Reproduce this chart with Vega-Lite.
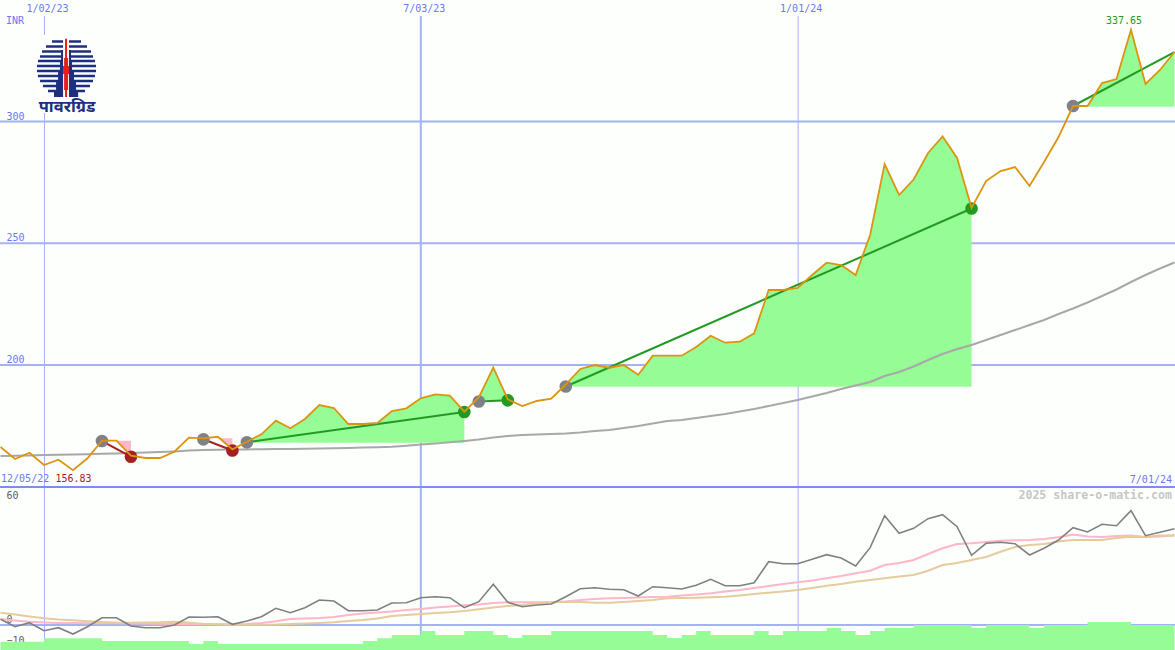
{"$schema":"https://vega.github.io/schema/vega-lite/v6.json","background":"#fdfffd","padding":0,"spacing":0,"autosize":{"type":"pad"},"config":{"view":{"stroke":null},"font":"DejaVu Sans Mono","axis":{"labelFont":"DejaVu Sans Mono","labelFontSize":10}},
"datasets":{"weeks":[
{"d":"2022-12-12","p":166.32,"ma":162.63,"osc":2.77,"rsi":2.91,"sig":5.97,"vol":-8.11},
{"d":"2022-12-19","p":161.40,"ma":162.75,"osc":-0.83,"rsi":2.18,"sig":5.10,"vol":-8.11},
{"d":"2022-12-26","p":163.98,"ma":162.87,"osc":1.12,"rsi":1.60,"sig":4.13,"vol":-8.11},
{"d":"2023-01-02","p":158.93,"ma":163.04,"osc":-2.77,"rsi":1.21,"sig":3.25,"vol":-6.46},
{"d":"2023-01-09","p":161.11,"ma":163.16,"osc":-1.31,"rsi":0.97,"sig":2.67,"vol":-6.46},
{"d":"2023-01-16","p":156.83,"ma":163.24,"osc":-4.37,"rsi":0.97,"sig":2.28,"vol":-6.46},
{"d":"2023-01-23","p":161.68,"ma":163.37,"osc":-0.83,"rsi":0.87,"sig":1.80,"vol":-6.46},
{"d":"2023-01-30","p":168.91,"ma":163.53,"osc":3.54,"rsi":0.97,"sig":1.46,"vol":-7.77},
{"d":"2023-02-06","p":168.91,"ma":163.70,"osc":3.54,"rsi":0.83,"sig":1.21,"vol":-7.77},
{"d":"2023-02-13","p":162.75,"ma":163.86,"osc":-0.49,"rsi":0.73,"sig":1.12,"vol":-7.77},
{"d":"2023-02-20","p":161.81,"ma":164.07,"osc":-1.31,"rsi":0.68,"sig":1.21,"vol":-7.77},
{"d":"2023-02-27","p":161.81,"ma":164.27,"osc":-1.31,"rsi":0.58,"sig":1.31,"vol":-7.77},
{"d":"2023-03-06","p":164.39,"ma":164.52,"osc":0,"rsi":0.49,"sig":1.60,"vol":-7.77},
{"d":"2023-03-13","p":170.14,"ma":164.89,"osc":3.88,"rsi":0.49,"sig":1.21,"vol":-9.22},
{"d":"2023-03-20","p":169.90,"ma":165.09,"osc":3.74,"rsi":0.49,"sig":0.49,"vol":-7.77},
{"d":"2023-03-27","p":170.55,"ma":165.17,"osc":4.03,"rsi":0.39,"sig":0.34,"vol":-9.22},
{"d":"2023-04-03","p":165.38,"ma":165.26,"osc":0.34,"rsi":0.39,"sig":0.15,"vol":-9.22},
{"d":"2023-04-10","p":168.50,"ma":165.34,"osc":1.94,"rsi":0.49,"sig":0.15,"vol":-9.22},
{"d":"2023-04-17","p":171.54,"ma":165.42,"osc":4.03,"rsi":0.97,"sig":0.15,"vol":-9.22},
{"d":"2023-04-24","p":177.13,"ma":165.50,"osc":8.11,"rsi":1.80,"sig":0.24,"vol":-9.22},
{"d":"2023-05-01","p":174.00,"ma":165.50,"osc":5.97,"rsi":2.91,"sig":0.49,"vol":-9.22},
{"d":"2023-05-08","p":177.82,"ma":165.63,"osc":8.40,"rsi":3.16,"sig":0.73,"vol":-9.22},
{"d":"2023-05-15","p":183.57,"ma":165.71,"osc":12.14,"rsi":3.40,"sig":0.97,"vol":-9.22},
{"d":"2023-05-22","p":182.34,"ma":165.83,"osc":11.65,"rsi":3.88,"sig":1.31,"vol":-9.22},
{"d":"2023-05-29","p":175.77,"ma":165.95,"osc":6.94,"rsi":4.85,"sig":1.94,"vol":-9.22},
{"d":"2023-06-05","p":175.77,"ma":166.08,"osc":6.94,"rsi":5.58,"sig":2.43,"vol":-7.77},
{"d":"2023-06-12","p":176.18,"ma":166.24,"osc":7.28,"rsi":6.07,"sig":3.16,"vol":-6.46},
{"d":"2023-06-19","p":181.11,"ma":166.41,"osc":10.68,"rsi":6.55,"sig":4.37,"vol":-4.85},
{"d":"2023-06-26","p":182.22,"ma":166.82,"osc":10.83,"rsi":7.28,"sig":4.85,"vol":-4.85},
{"d":"2023-07-03","p":186.32,"ma":167.35,"osc":13.25,"rsi":7.77,"sig":5.34,"vol":-2.91},
{"d":"2023-07-10","p":187.97,"ma":167.76,"osc":13.74,"rsi":8.50,"sig":5.83,"vol":-4.85},
{"d":"2023-07-17","p":187.39,"ma":168.25,"osc":13.25,"rsi":8.98,"sig":6.17,"vol":-4.85},
{"d":"2023-07-24","p":180.82,"ma":168.79,"osc":8.40,"rsi":9.56,"sig":6.80,"vol":-2.91},
{"d":"2023-07-31","p":186.65,"ma":169.40,"osc":11.31,"rsi":9.95,"sig":7.62,"vol":-2.91},
{"d":"2023-08-07","p":198.89,"ma":170.23,"osc":19.76,"rsi":10.68,"sig":8.50,"vol":-4.85},
{"d":"2023-08-14","p":185.91,"ma":170.84,"osc":11.02,"rsi":11.02,"sig":9.22,"vol":-6.31},
{"d":"2023-08-21","p":183.16,"ma":171.25,"osc":8.88,"rsi":11.02,"sig":9.71,"vol":-4.85},
{"d":"2023-08-28","p":185.22,"ma":171.46,"osc":9.71,"rsi":11.02,"sig":10.53,"vol":-4.85},
{"d":"2023-09-04","p":186.16,"ma":171.66,"osc":10.19,"rsi":11.02,"sig":11.02,"vol":-2.91},
{"d":"2023-09-11","p":191.99,"ma":171.87,"osc":13.74,"rsi":11.41,"sig":11.31,"vol":-2.91},
{"d":"2023-09-18","p":198.36,"ma":172.28,"osc":17.62,"rsi":12.14,"sig":11.17,"vol":-2.91},
{"d":"2023-09-25","p":200,"ma":172.90,"osc":18.11,"rsi":12.62,"sig":10.83,"vol":-2.91},
{"d":"2023-10-02","p":198.89,"ma":173.31,"osc":17.33,"rsi":12.96,"sig":10.83,"vol":-2.91},
{"d":"2023-10-09","p":200,"ma":174.13,"osc":17.14,"rsi":13.11,"sig":11.17,"vol":-2.91},
{"d":"2023-10-16","p":196.02,"ma":174.95,"osc":14.08,"rsi":13.35,"sig":11.65,"vol":-2.91},
{"d":"2023-10-23","p":203.82,"ma":175.98,"osc":18.59,"rsi":13.59,"sig":12.14,"vol":-4.85},
{"d":"2023-10-30","p":203.82,"ma":177.00,"osc":18.11,"rsi":13.74,"sig":12.96,"vol":-6.31},
{"d":"2023-11-06","p":203.82,"ma":177.41,"osc":17.48,"rsi":14.32,"sig":13.11,"vol":-4.85},
{"d":"2023-11-13","p":207.39,"ma":178.23,"osc":19.27,"rsi":14.81,"sig":13.25,"vol":-2.91},
{"d":"2023-11-20","p":212.03,"ma":179.05,"osc":22.18,"rsi":15.39,"sig":13.45,"vol":-4.85},
{"d":"2023-11-27","p":209.16,"ma":179.88,"osc":19.08,"rsi":16.26,"sig":13.74,"vol":-4.85},
{"d":"2023-12-04","p":209.57,"ma":180.90,"osc":19.08,"rsi":16.99,"sig":14.32,"vol":-4.85},
{"d":"2023-12-11","p":213.02,"ma":181.93,"osc":20.53,"rsi":17.96,"sig":15.05,"vol":-2.91},
{"d":"2023-12-18","p":230.80,"ma":183.16,"osc":30.73,"rsi":18.93,"sig":15.68,"vol":-4.85},
{"d":"2023-12-25","p":230.80,"ma":184.39,"osc":29.76,"rsi":19.90,"sig":16.26,"vol":-2.91},
{"d":"2024-01-01","p":231.62,"ma":185.63,"osc":29.76,"rsi":20.73,"sig":16.99,"vol":-2.91},
{"d":"2024-01-08","p":236.96,"ma":187.06,"osc":31.89,"rsi":21.60,"sig":17.96,"vol":-2.91},
{"d":"2024-01-15","p":242.01,"ma":188.50,"osc":34.13,"rsi":22.67,"sig":19.08,"vol":-1.46},
{"d":"2024-01-22","p":241.07,"ma":190.14,"osc":32.52,"rsi":23.79,"sig":19.90,"vol":-2.91},
{"d":"2024-01-29","p":236.96,"ma":191.58,"osc":28.64,"rsi":25.10,"sig":21.02,"vol":-4.85},
{"d":"2024-02-05","p":253.39,"ma":193.02,"osc":37.52,"rsi":26.36,"sig":21.84,"vol":-2.91},
{"d":"2024-02-12","p":282.55,"ma":195.48,"osc":53.06,"rsi":29.13,"sig":22.67,"vol":-1.46},
{"d":"2024-02-19","p":269.82,"ma":197.13,"osc":44.51,"rsi":30.10,"sig":23.54,"vol":-1.46},
{"d":"2024-02-26","p":276.18,"ma":199.38,"osc":46.94,"rsi":31.55,"sig":24.27,"vol":0},
{"d":"2024-03-04","p":287.06,"ma":202.05,"osc":51.60,"rsi":34.47,"sig":26.36,"vol":0},
{"d":"2024-03-11","p":293.84,"ma":204.52,"osc":53.54,"rsi":37.23,"sig":29.13,"vol":0},
{"d":"2024-03-18","p":285.01,"ma":206.57,"osc":47.72,"rsi":39.32,"sig":30.10,"vol":0},
{"d":"2024-03-25","p":264.48,"ma":208.21,"osc":33.84,"rsi":39.66,"sig":31.55,"vol":-1.46},
{"d":"2024-04-01","p":275.56,"ma":210.27,"osc":39.66,"rsi":40.29,"sig":33.01,"vol":0},
{"d":"2024-04-08","p":279.67,"ma":212.32,"osc":40.15,"rsi":40.92,"sig":35.58,"vol":0},
{"d":"2024-04-15","p":281.31,"ma":214.37,"osc":39.47,"rsi":41.12,"sig":37.86,"vol":0},
{"d":"2024-04-22","p":273.51,"ma":216.43,"osc":33.98,"rsi":41.26,"sig":38.83,"vol":-1.46},
{"d":"2024-04-29","p":283.37,"ma":218.48,"osc":37.23,"rsi":41.75,"sig":39.32,"vol":0},
{"d":"2024-05-06","p":293.63,"ma":220.94,"osc":41.26,"rsi":42.57,"sig":40.53,"vol":0},
{"d":"2024-05-13","p":306.37,"ma":223.20,"osc":47.23,"rsi":43.93,"sig":41.26,"vol":0},
{"d":"2024-05-20","p":306.37,"ma":225.67,"osc":45.15,"rsi":42.96,"sig":41.26,"vol":1.46},
{"d":"2024-05-27","p":315.81,"ma":228.34,"osc":48.88,"rsi":42.72,"sig":41.26,"vol":1.46},
{"d":"2024-06-03","p":317.45,"ma":231.01,"osc":48.20,"rsi":43.20,"sig":42.23,"vol":1.46},
{"d":"2024-06-10","p":337.65,"ma":234.09,"osc":55.49,"rsi":43.45,"sig":42.86,"vol":0},
{"d":"2024-06-17","p":315.40,"ma":236.96,"osc":43.35,"rsi":42.72,"sig":42.72,"vol":0},
{"d":"2024-06-24","p":321.15,"ma":239.63,"osc":45.00,"rsi":42.96,"sig":43.45,"vol":0},
{"d":"2024-07-01","p":328.54,"ma":242.09,"osc":46.75,"rsi":43.69,"sig":43.35,"vol":0}
],
"fills":[
{"t":"L1","k":"loss","d":"2023-01-30","p":168.91,"b":168.91},{"t":"L1","k":"loss","d":"2023-02-06","p":168.91,"b":168.91},{"t":"L1","k":"loss","d":"2023-02-13","p":162.75,"b":168.91},
{"t":"L2","k":"loss","d":"2023-03-20","p":169.90,"b":169.90},{"t":"L2","k":"loss","d":"2023-03-27","p":170.55,"b":169.90},{"t":"L2","k":"loss","d":"2023-04-03","p":165.38,"b":169.90},
{"t":"G1","k":"gain","d":"2023-04-10","p":168.50,"b":168.09},{"t":"G1","k":"gain","d":"2023-04-17","p":171.54,"b":168.09},{"t":"G1","k":"gain","d":"2023-04-24","p":177.13,"b":168.09},{"t":"G1","k":"gain","d":"2023-05-01","p":174.00,"b":168.09},{"t":"G1","k":"gain","d":"2023-05-08","p":177.82,"b":168.09},{"t":"G1","k":"gain","d":"2023-05-15","p":183.57,"b":168.09},{"t":"G1","k":"gain","d":"2023-05-22","p":182.34,"b":168.09},{"t":"G1","k":"gain","d":"2023-05-29","p":175.77,"b":168.09},{"t":"G1","k":"gain","d":"2023-06-05","p":175.77,"b":168.09},{"t":"G1","k":"gain","d":"2023-06-12","p":176.18,"b":168.09},{"t":"G1","k":"gain","d":"2023-06-19","p":181.11,"b":168.09},{"t":"G1","k":"gain","d":"2023-06-26","p":182.22,"b":168.09},{"t":"G1","k":"gain","d":"2023-07-03","p":186.32,"b":168.09},{"t":"G1","k":"gain","d":"2023-07-10","p":187.97,"b":168.09},{"t":"G1","k":"gain","d":"2023-07-17","p":187.39,"b":168.09},{"t":"G1","k":"gain","d":"2023-07-24","p":180.82,"b":168.09},
{"t":"G2","k":"gain","d":"2023-07-31","p":186.65,"b":185.63},{"t":"G2","k":"gain","d":"2023-08-07","p":198.89,"b":185.63},{"t":"G2","k":"gain","d":"2023-08-14","p":185.91,"b":185.63},
{"t":"G3","k":"gain","d":"2023-09-11","p":191.99,"b":191.09},{"t":"G3","k":"gain","d":"2023-09-18","p":198.36,"b":191.09},{"t":"G3","k":"gain","d":"2023-09-25","p":200,"b":191.09},{"t":"G3","k":"gain","d":"2023-10-02","p":198.89,"b":191.09},{"t":"G3","k":"gain","d":"2023-10-09","p":200,"b":191.09},{"t":"G3","k":"gain","d":"2023-10-16","p":196.02,"b":191.09},{"t":"G3","k":"gain","d":"2023-10-23","p":203.82,"b":191.09},{"t":"G3","k":"gain","d":"2023-10-30","p":203.82,"b":191.09},{"t":"G3","k":"gain","d":"2023-11-06","p":203.82,"b":191.09},{"t":"G3","k":"gain","d":"2023-11-13","p":207.39,"b":191.09},{"t":"G3","k":"gain","d":"2023-11-20","p":212.03,"b":191.09},{"t":"G3","k":"gain","d":"2023-11-27","p":209.16,"b":191.09},{"t":"G3","k":"gain","d":"2023-12-04","p":209.57,"b":191.09},{"t":"G3","k":"gain","d":"2023-12-11","p":213.02,"b":191.09},{"t":"G3","k":"gain","d":"2023-12-18","p":230.80,"b":191.09},{"t":"G3","k":"gain","d":"2023-12-25","p":230.80,"b":191.09},{"t":"G3","k":"gain","d":"2024-01-01","p":231.62,"b":191.09},{"t":"G3","k":"gain","d":"2024-01-08","p":236.96,"b":191.09},{"t":"G3","k":"gain","d":"2024-01-15","p":242.01,"b":191.09},{"t":"G3","k":"gain","d":"2024-01-22","p":241.07,"b":191.09},{"t":"G3","k":"gain","d":"2024-01-29","p":236.96,"b":191.09},{"t":"G3","k":"gain","d":"2024-02-05","p":253.39,"b":191.09},{"t":"G3","k":"gain","d":"2024-02-12","p":282.55,"b":191.09},{"t":"G3","k":"gain","d":"2024-02-19","p":269.82,"b":191.09},{"t":"G3","k":"gain","d":"2024-02-26","p":276.18,"b":191.09},{"t":"G3","k":"gain","d":"2024-03-04","p":287.06,"b":191.09},{"t":"G3","k":"gain","d":"2024-03-11","p":293.84,"b":191.09},{"t":"G3","k":"gain","d":"2024-03-18","p":285.01,"b":191.09},{"t":"G3","k":"gain","d":"2024-03-25","p":264.48,"b":191.09},
{"t":"G4","k":"gain","d":"2024-05-13","p":306.37,"b":306.07},{"t":"G4","k":"gain","d":"2024-05-20","p":306.37,"b":306.07},{"t":"G4","k":"gain","d":"2024-05-27","p":315.81,"b":306.07},{"t":"G4","k":"gain","d":"2024-06-03","p":317.45,"b":306.07},{"t":"G4","k":"gain","d":"2024-06-10","p":337.65,"b":306.07},{"t":"G4","k":"gain","d":"2024-06-17","p":315.40,"b":306.07},{"t":"G4","k":"gain","d":"2024-06-24","p":321.15,"b":306.07},{"t":"G4","k":"gain","d":"2024-07-01","p":328.54,"b":306.07}
],
"trades":[
{"t":"L1","k":"loss","s":"entry","d":"2023-01-30","v":168.79},{"t":"L1","k":"loss","s":"loss","d":"2023-02-13","v":162.34},
{"t":"L2","k":"loss","s":"entry","d":"2023-03-20","v":169.49},{"t":"L2","k":"loss","s":"loss","d":"2023-04-03","v":164.89},
{"t":"G1","k":"gain","s":"entry","d":"2023-04-10","v":168.25},{"t":"G1","k":"gain","s":"gain","d":"2023-07-24","v":180.70},
{"t":"G2","k":"gain","s":"entry","d":"2023-07-31","v":185.01},{"t":"G2","k":"gain","s":"gain","d":"2023-08-14","v":185.50},
{"t":"G3","k":"gain","s":"entry","d":"2023-09-11","v":191.17},{"t":"G3","k":"gain","s":"gain","d":"2024-03-25","v":264.27},
{"t":"G4","k":"gain","s":"entry","d":"2024-05-13","v":306.37},{"t":"G4","k":"gain","s":"open","d":"2024-07-01","v":328.54}
],
"logo":[
{"part":"bg","d":"2022-12-29T15:00Z","d2":"2023-01-27T03:00Z","a":335.52,"b":303.49},
{"part":"navy","d":"2023-01-05T21:00Z","d2":"2023-01-19T21:00Z","a":333.36,"b":332.33},
{"part":"navy","d":"2023-01-02T23:00Z","d2":"2023-01-22T18:00Z","a":331.30,"b":330.28},
{"part":"navy","d":"2023-01-01T01:00Z","d2":"2023-01-24T17:00Z","a":329.26,"b":328.23},
{"part":"navy","d":"2022-12-31T02:00Z","d2":"2023-01-25T16:00Z","a":327.21,"b":326.18},
{"part":"navy","d":"2022-12-30T02:00Z","d2":"2023-01-26T15:00Z","a":325.36,"b":324.33},
{"part":"navy","d":"2022-12-29T15:00Z","d2":"2023-01-27T03:00Z","a":323.31,"b":322.28},
{"part":"navy","d":"2022-12-29T15:00Z","d2":"2023-01-27T03:00Z","a":321.25,"b":320.23},
{"part":"navy","d":"2022-12-30T02:00Z","d2":"2023-01-26T15:00Z","a":319.20,"b":318.18},
{"part":"navy","d":"2022-12-31T02:00Z","d2":"2023-01-25T16:00Z","a":317.15,"b":316.12},
{"part":"navy","d":"2023-01-01T12:00Z","d2":"2023-01-24T05:00Z","a":315.10,"b":314.07},
{"part":"navy","d":"2023-01-03T22:00Z","d2":"2023-01-21T19:00Z","a":313.04,"b":312.02},
{"part":"navy","d":"2023-01-07T08:00Z","d2":"2023-01-18T11:00Z","a":311.19,"b":310.16},
{"part":"navy","d":"2023-01-11T05:00Z","d2":"2023-01-14T02:00Z","a":333.47,"b":329.36},
{"part":"navy","d":"2023-01-10T06:00Z","d2":"2023-01-15T01:00Z","a":329.36,"b":325.25},
{"part":"navy","d":"2023-01-09T18:00Z","d2":"2023-01-15T13:00Z","a":325.25,"b":321.15},
{"part":"navy","d":"2023-01-08T19:00Z","d2":"2023-01-16T12:00Z","a":321.15,"b":317.04},
{"part":"navy","d":"2023-01-07T20:00Z","d2":"2023-01-17T11:00Z","a":317.04,"b":312.94},
{"part":"navy","d":"2023-01-06T20:00Z","d2":"2023-01-18T11:00Z","a":312.94,"b":310.06},
{"part":"gap","d":"2023-01-11T05:00Z","d2":"2023-01-14T02:00Z","a":334.5,"b":310.06},
{"part":"red","d":"2023-01-12T04:00Z","d2":"2023-01-13T03:00Z","a":334.0,"b":322.79},
{"part":"red","d":"2023-01-11T17:00Z","d2":"2023-01-13T15:00Z","a":326.08,"b":322.79},
{"part":"red","d":"2023-01-11T05:00Z","d2":"2023-01-14T02:00Z","a":322.79,"b":319.51},
{"part":"red","d":"2023-01-11T17:00Z","d2":"2023-01-13T15:00Z","a":319.51,"b":312.94},
{"part":"red","d":"2023-01-12T04:00Z","d2":"2023-01-13T03:00Z","a":312.94,"b":310.06}
]},
"vconcat":[
{"width":1175,"height":472,
"encoding":{"x":{"field":"d","type":"temporal","scale":{"type":"utc","domain":["2022-12-11T18:00:00Z","2024-07-01T06:00:00Z"]},"axis":{"orient":"top","title":null,"domain":false,"ticks":false,"grid":false,"minExtent":16,"maxExtent":16,"values":[{"year":2023,"month":1,"date":2,"utc":true},{"year":2023,"month":7,"date":3,"utc":true},{"year":2024,"month":1,"date":1,"utc":true}],"format":"%-m/%d/%y","labelColor":"#6a78f8","labelPadding":3,"labelOffset":3,"labelFont":"DejaVu Sans Mono","labelFontSize":10}}},
"layer":[
{"data":{"values":[{"d":"2023-01-02"},{"d":"2024-01-01"}]},"mark":{"type":"rule","clip":true,"color":"#a4b2f4","strokeWidth":1,"xOffset":0.5},"encoding":{}},
{"data":{"values":[{"d":"2023-07-03"}]},"mark":{"type":"rule","clip":true,"color":"#a4b2f4","strokeWidth":2},"encoding":{}},
{"data":{"values":[{"s":200,"d":"2022-12-11T18:00:00Z","e":"2024-07-01T06:00:00Z"},{"s":250,"d":"2022-12-11T18:00:00Z","e":"2024-07-01T06:00:00Z"},{"s":300,"d":"2022-12-11T18:00:00Z","e":"2024-07-01T06:00:00Z"}]},"mark":{"type":"rule","clip":true,"color":"#a4b2f4","strokeWidth":2},"encoding":{"x2":{"field":"e"},"y":{"field":"s","type":"quantitative","scale":{"domain":[149.49,343.33],"nice":false,"zero":false},"axis":{"title":null,"domain":false,"ticks":false,"grid":false,"minExtent":0,"maxExtent":0,"values":[200,250,300],"labelColor":"#6a78f8","labelAlign":"left","labelPadding":-6,"labelOffset":-5.5,"labelBaseline":"middle","labelFont":"DejaVu Sans Mono","labelFontSize":10}}}},
{"data":{"name":"fills"},"mark":{"type":"area","clip":true,"interpolate":"linear"},"encoding":{"y":{"field":"p","type":"quantitative","stack":null,"scale":{"domain":[149.49,343.33],"nice":false,"zero":false}},"y2":{"field":"b"},"detail":{"field":"t"},"color":{"field":"k","type":"nominal","legend":null,"scale":{"domain":["gain","loss"],"range":["#96fc96","#ffb6c8"]}}}},
{"data":{"name":"weeks"},"mark":{"type":"line","clip":true,"color":"#a8a8a8","strokeWidth":2},"encoding":{"y":{"field":"ma","type":"quantitative","scale":{"domain":[149.49,343.33],"nice":false,"zero":false}}}},
{"data":{"name":"trades"},"mark":{"type":"line","clip":true,"strokeWidth":2},"encoding":{"y":{"field":"v","type":"quantitative","scale":{"domain":[149.49,343.33],"nice":false,"zero":false}},"detail":{"field":"t"},"color":{"field":"k","type":"nominal","legend":null,"scale":{"domain":["gain","loss"],"range":["#229a22","#a52020"]}}}},
{"data":{"name":"trades"},"transform":[{"filter":"datum.s !== 'open'"}],"mark":{"type":"circle","opacity":1,"size":160},"encoding":{"y":{"field":"v","type":"quantitative","scale":{"domain":[149.49,343.33],"nice":false,"zero":false}},"color":{"field":"s","type":"nominal","legend":null,"scale":{"domain":["entry","gain","loss"],"range":["#808088","#229a22","#a52020"]}}}},
{"data":{"name":"weeks"},"mark":{"type":"line","clip":true,"color":"#dc9410","strokeWidth":1.8},"encoding":{"y":{"field":"p","type":"quantitative","scale":{"domain":[149.49,343.33],"nice":false,"zero":false}}}},
{"data":{"values":[{"s":149.9,"d":"2022-12-11T18:00:00Z","e":"2024-07-01T06:00:00Z"}]},"mark":{"type":"rule","clip":true,"color":"#7c8cf0","strokeWidth":2},"encoding":{"x2":{"field":"e"},"y":{"field":"s","type":"quantitative","scale":{"domain":[149.49,343.33],"nice":false,"zero":false}}}},
{"data":{"name":"logo"},"mark":{"type":"rect"},"encoding":{"x2":{"field":"d2"},"y":{"field":"a","type":"quantitative","scale":{"domain":[149.49,343.33],"nice":false,"zero":false}},"y2":{"field":"b"},"color":{"field":"part","type":"nominal","legend":null,"scale":{"domain":["bg","navy","gap","red"],"range":["#fdfffd","#1e2f80","#fdfffd","#e42018"]}}}},
{"data":{"values":[{"d":"2023-01-13T03:00:00Z","v":305.95,"t":"पावरग्रिड"}]},"mark":{"type":"text","font":"Noto Sans","fontSize":16.5,"fontWeight":"bold","color":"#1e2f80","align":"center","baseline":"middle"},"encoding":{"y":{"field":"v","type":"quantitative","scale":{"domain":[149.49,343.33],"nice":false,"zero":false}},"text":{"field":"t"}}},
{"data":{"values":[{"d":"2022-12-14T16:00:00Z","v":341.27,"t":"INR"},{"d":"2022-12-12T06:00:00Z","v":153.18,"t":"12/05/22"}]},"mark":{"type":"text","font":"DejaVu Sans Mono","fontSize":10,"color":"#6a78f8","align":"left","baseline":"middle"},"encoding":{"y":{"field":"v","type":"quantitative","scale":{"domain":[149.49,343.33],"nice":false,"zero":false}},"text":{"field":"t"}}},
{"data":{"values":[{"d":"2023-01-07T13:00:00Z","v":153.18,"t":"156.83"}]},"mark":{"type":"text","font":"DejaVu Sans Mono","fontSize":10,"color":"#a52020","align":"left","baseline":"middle"},"encoding":{"y":{"field":"v","type":"quantitative","scale":{"domain":[149.49,343.33],"nice":false,"zero":false}},"text":{"field":"t"}}},
{"data":{"values":[{"d":"2024-06-06T15:00:00Z","v":341.27,"t":"337.65"}]},"mark":{"type":"text","font":"DejaVu Sans Mono","fontSize":10,"color":"#229a22","align":"center","baseline":"middle"},"encoding":{"y":{"field":"v","type":"quantitative","scale":{"domain":[149.49,343.33],"nice":false,"zero":false}},"text":{"field":"t"}}},
{"data":{"values":[{"d":"2024-06-29T19:00:00Z","v":152.77,"t":"7/01/24"}]},"mark":{"type":"text","font":"DejaVu Sans Mono","fontSize":10,"color":"#6a78f8","align":"right","baseline":"middle"},"encoding":{"y":{"field":"v","type":"quantitative","scale":{"domain":[149.49,343.33],"nice":false,"zero":false}},"text":{"field":"t"}}}
],
"resolve":{"scale":{"color":"independent"}}},
{"width":1175,"height":162,
"encoding":{"x":{"field":"d","type":"temporal","scale":{"type":"utc","domain":["2022-12-11T18:00:00Z","2024-07-01T06:00:00Z"]},"axis":null}},
"layer":[
{"data":{"values":[{"d":"2023-01-02"},{"d":"2024-01-01"}]},"mark":{"type":"rule","clip":true,"color":"#a4b2f4","strokeWidth":1,"xOffset":0.5},"encoding":{}},
{"data":{"values":[{"d":"2023-07-03"}]},"mark":{"type":"rule","clip":true,"color":"#a4b2f4","strokeWidth":2},"encoding":{}},
{"data":{"values":[{"s":0,"d":"2022-12-11T18:00:00Z","e":"2024-07-01T06:00:00Z"}]},"mark":{"type":"rule","clip":true,"color":"#a4b2f4","strokeWidth":2},"encoding":{"x2":{"field":"e"},"y":{"field":"s","type":"quantitative","scale":{"domain":[-12.14,66.5],"nice":false,"zero":false},"axis":{"title":null,"domain":false,"ticks":false,"grid":false,"minExtent":0,"maxExtent":0,"values":[60,0,-10],"labelColor":"#606060","labelAlign":"left","labelPadding":-6,"labelOffset":-5.5,"labelBaseline":"middle","labelFont":"DejaVu Sans Mono","labelFontSize":10}}}},
{"data":{"name":"weeks"},"mark":{"type":"area","clip":true,"interpolate":"step-after","color":"#96fc96"},"encoding":{"y":{"field":"vol","type":"quantitative","stack":null,"scale":{"domain":[-12.14,66.5],"nice":false,"zero":false}},"y2":{"datum":-12.14}}},
{"data":{"name":"weeks"},"mark":{"type":"line","clip":true,"color":"#ffb6c8","strokeWidth":2},"encoding":{"y":{"field":"rsi","type":"quantitative","scale":{"domain":[-12.14,66.5],"nice":false,"zero":false}}}},
{"data":{"name":"weeks"},"mark":{"type":"line","clip":true,"color":"#e4cc9c","strokeWidth":2},"encoding":{"y":{"field":"sig","type":"quantitative","scale":{"domain":[-12.14,66.5],"nice":false,"zero":false}}}},
{"data":{"name":"weeks"},"mark":{"type":"line","clip":true,"color":"#808080","strokeWidth":1.6},"encoding":{"y":{"field":"osc","type":"quantitative","scale":{"domain":[-12.14,66.5],"nice":false,"zero":false}}}},
{"data":{"values":[{"d":"2024-06-29T19:00:00Z","v":62.62,"t":"2025 share-o-matic.com"}]},"mark":{"type":"text","font":"DejaVu Sans Mono","fontSize":11.6,"fontWeight":"bold","color":"#c6c6c6","align":"right","baseline":"middle"},"encoding":{"y":{"field":"v","type":"quantitative","scale":{"domain":[-12.14,66.5],"nice":false,"zero":false}},"text":{"field":"t"}}}
]}
]}
